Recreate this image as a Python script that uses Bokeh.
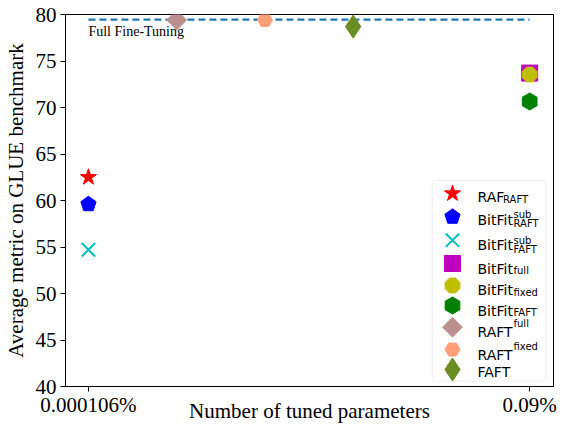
import numpy as np
from bokeh.plotting import figure
from bokeh.models import Range1d, ColumnDataSource, BoxAnnotation, Label, FixedTicker
from bokeh.core.properties import value
from bokeh.embed import file_html
from bokeh.resources import INLINE

# ---------------- data ----------------
x_tick_values = [0, 1]
x_tick_labels = ["0.000106%", "0.09%"]
y_tick_values = [40, 45, 50, 55, 60, 65, 70, 75, 80]

full_ft_label = "Full Fine-Tuning"
full_ft_x = [0, 1]
full_ft_y = [79.45, 79.45]

raf_raft_x = [0]
raf_raft_y = [62.5]
bitfit_sub_raft_x = [0]
bitfit_sub_raft_y = [59.6]
bitfit_sub_faft_x = [0]
bitfit_sub_faft_y = [54.7]
bitfit_full_x = [1]
bitfit_full_y = [73.7]
bitfit_fixed_x = [1]
bitfit_fixed_y = [73.55]
bitfit_faft_x = [1]
bitfit_faft_y = [70.65]
raft_full_x = [0.2]
raft_full_y = [79.4]
raft_fixed_x = [0.4]
raft_fixed_y = [79.4]
faft_x = [0.6]
faft_y = [78.7]

legend_main = ["RAF", "BitFit", "BitFit", "BitFit", "BitFit", "BitFit", "RAFT", "RAFT", "FAFT"]
legend_sub = ["RAFT", "RAFT", "FAFT", "full", "fixed", "FAFT", "", "", ""]
legend_sup = ["", "sub", "sub", "", "", "", "full", "fixed", ""]

# ---------------- styles ----------------
styles = [
    dict(kind="scatter", marker="star", size=17, color="#ff0000"),
    dict(kind="ngon", n=5, radius=8.0, angle=0.0, color="#0000ff"),
    dict(kind="x", size=19, color="#00bfbf"),
    dict(kind="scatter", marker="square", size=16, color="#bf00bf"),
    dict(kind="ngon", n=8, radius=8.0, angle=np.pi / 8, color="#bfbf00"),
    dict(kind="ngon", n=6, radius=8.5, angle=0.0, color="#008000"),
    dict(kind="scatter", marker="square", size=14, angle=np.pi / 4, color="#bc8f8f"),
    dict(kind="ngon", n=6, radius=7.5, angle=np.pi / 2, color="#ffa07a"),
    dict(kind="scatter", marker="diamond", size=23, color="#6b8e23"),
]
series = [
    (raf_raft_x, raf_raft_y), (bitfit_sub_raft_x, bitfit_sub_raft_y),
    (bitfit_sub_faft_x, bitfit_sub_faft_y), (bitfit_full_x, bitfit_full_y),
    (bitfit_fixed_x, bitfit_fixed_y), (bitfit_faft_x, bitfit_faft_y),
    (raft_full_x, raft_full_y), (raft_fixed_x, raft_fixed_y), (faft_x, faft_y),
]

BL, BR, BT, BB = 65, 4, 14, 40
W, H = 557, 426
FW, FH = W - BL - BR, H - BT - BB  # frame size in px
p = figure(width=W, height=H, x_range=Range1d(-0.052, 1.054), y_range=Range1d(40, 80),
           output_backend="svg", toolbar_location=None,
           min_border_left=BL, min_border_right=BR, min_border_top=BT, min_border_bottom=BB)
p.extra_x_ranges = {"px": Range1d(0, FW)}
p.extra_y_ranges = {"px": Range1d(0, FH)}
p.xgrid.grid_line_color = None
p.ygrid.grid_line_color = None
p.outline_line_color = "black"
p.outline_line_width = 1
p.background_fill_color = "white"
p.border_fill_color = "white"

for ax in (p.xaxis[0], p.yaxis[0]):
    ax.axis_label_text_font = "Liberation Serif"
    ax.axis_label_text_font_size = "21px"
    ax.axis_label_text_font_style = "normal"
    ax.axis_label_text_color = "black"
    ax.major_label_text_font = "Liberation Serif"
    ax.major_label_text_font_size = "21px"
    ax.major_label_text_color = "black"
    ax.major_tick_out = 5
    ax.major_tick_in = 0
    ax.minor_tick_out = 0
    ax.minor_tick_in = 0
    ax.axis_line_color = "black"
    ax.major_tick_line_color = "black"

p.xaxis[0].ticker = FixedTicker(ticks=x_tick_values)
p.xaxis[0].major_label_overrides = {v: l for v, l in zip(x_tick_values, x_tick_labels)}
p.xaxis[0].axis_label = "Number of tuned parameters"
p.xaxis[0].major_label_standoff = 1
p.xaxis[0].axis_label_standoff = -21
p.yaxis[0].ticker = FixedTicker(ticks=y_tick_values)
p.yaxis[0].axis_label = "Average metric on GLUE benchmark"
p.yaxis[0].major_label_standoff = 4
p.yaxis[0].axis_label_standoff = 5

# full fine-tuning line
p.line(full_ft_x, full_ft_y, line_color="#1f77b4", line_width=2.2, line_dash="7 4")
p.add_layout(Label(x=0, y=78.2, text=full_ft_label, text_font="Liberation Serif",
                   text_font_size="14px", text_color="black", text_baseline="alphabetic"))


def draw(st, xs, ys, **kw):
    if st["kind"] == "scatter":
        p.scatter(xs, ys, marker=st["marker"], size=st["size"], angle=st.get("angle", 0.0),
                  fill_color=st["color"], line_color=st["color"], **kw)
    elif st["kind"] == "x":
        p.scatter(xs, ys, marker="x", size=st["size"], line_color=st["color"],
                  line_width=2, **kw)
    else:
        p.ngon(x=xs, y=ys, radius=st["radius"], radius_units="screen", n=st["n"],
               angle=st["angle"], fill_color=st["color"], line_color=st["color"], **kw)


for st, (xs, ys) in zip(styles, series):
    draw(st, xs, ys)

# ---------------- legend (drawn in frame pixel space) ----------------
REF_LEFT, REF_BOTTOM, SHIFT = 65, 386, -14


def lx(xr):
    return xr - REF_LEFT + SHIFT


def ly(yr):
    return REF_BOTTOM - yr


box = BoxAnnotation(left=lx(445.7), right=lx(559.3), top=ly(180), bottom=ly(380.7),
                    x_range_name="px", y_range_name="px", fill_color="white", fill_alpha=0.8,
                    line_color="#cccccc", line_width=1, border_radius=3, level="underlay")
p.add_layout(box)

row_marker_y = [193, 216.3, 239.7, 263, 285, 305, 326.7, 349, 369]
row_base_y = [196.3, 219.7, 244.7, 268, 289, 310, 331.7, 354.3, 371]
row_sub_y = [198.7, 223, 249, 270.3, 291.7, 311.7, 0, 0, 0]
row_sup_y = [0, 213.7, 239.7, 0, 0, 0, 323.3, 346, 0]
row_script_x = [516.5, 527, 527, 527, 527, 527, 527, 527, 0]

for i, st in enumerate(styles):
    draw(st, [lx(466)], [ly(row_marker_y[i])], x_range_name="px", y_range_name="px")

main_src = ColumnDataSource(dict(x=[lx(491)] * len(legend_main),
                                 y=[ly(v) for v in row_base_y], t=legend_main))
p.text(x="x", y="y", text="t", source=main_src, x_range_name="px", y_range_name="px",
       text_font=value("DejaVu Sans"), text_font_size="14px", text_color="black",
       text_baseline="alphabetic", text_align="left")

sx, sy, stx = [], [], []
for i in range(len(legend_main)):
    if legend_sub[i]:
        sx.append(lx(row_script_x[i])); sy.append(ly(row_sub_y[i])); stx.append(legend_sub[i])
    if legend_sup[i]:
        sx.append(lx(row_script_x[i])); sy.append(ly(row_sup_y[i])); stx.append(legend_sup[i])
script_src = ColumnDataSource(dict(x=sx, y=sy, t=stx))
p.text(x="x", y="y", text="t", source=script_src, x_range_name="px", y_range_name="px",
       text_font=value("DejaVu Sans"), text_font_size="10px", text_color="black",
       text_baseline="alphabetic", text_align="left")

open("out.html", "w").write(file_html(p, INLINE))
